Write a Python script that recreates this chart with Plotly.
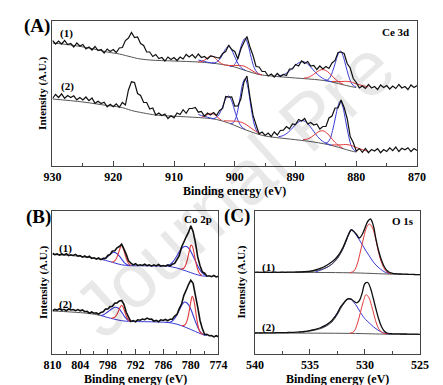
import numpy as np
import plotly.graph_objects as go

# ---------------- Panel A : Ce 3d ----------------
E_A = np.linspace(930, 870, 121)
ce_1 = [125.5, 122, 125, 122, 125.5, 121.5, 122.5, 119, 123, 120,
        121.5, 117, 119, 116, 119.5, 115.5, 116.5, 113, 117, 114.5,
        116.5, 113.5, 118, 118.5, 125.5, 128, 133.5, 128.5, 129, 122.5,
        120.5, 114, 114, 109.5, 111.5, 107.5, 108.5, 105, 109, 106.5,
        108.5, 105.5, 109, 107, 111.5, 109, 111.5, 108, 112, 108.5,
        109.5, 107, 110, 109.5, 108.5, 108, 112.5, 114.5, 121, 116.5,
        114.5, 107, 117, 123.5, 129.5, 119, 110.5, 99.5, 99, 94.5,
        94.5, 90, 92, 89, 92.5, 89.5, 91.5, 90.5, 97, 97,
        101.5, 100, 105, 102.5, 104.5, 100, 100.5, 96.5, 100, 97,
        99.5, 97.5, 103, 105.5, 113.5, 114, 112.5, 102.5, 98, 87.5,
        83.5, 78, 80, 77.5, 81.5, 78, 79.5, 76.5, 81, 78.5,
        80.5, 77, 80, 77.5, 81.5, 78, 79.5, 76.5, 81, 78.5,
        80.5]
ce_2 = [67.5, 71.5, 68.5, 72.2, 67.7, 70.5, 68.5, 70.2, 66.2, 68.5,
        66, 69, 65.3, 68, 62.7, 64.8, 62.5, 63.8, 59.2, 61.7,
        59.2, 62.2, 58.7, 63.5, 61, 76, 84.2, 83.5, 72.5, 70.5,
        63.5, 63.5, 57, 58, 51, 53, 50.5, 52, 47.5, 50.3,
        48.2, 53, 51.5, 56.3, 52.7, 57.5, 57.5, 58.5, 53.8, 54.5,
        49.8, 53, 51, 53.5, 50.5, 55.5, 57.5, 69.5, 68.8, 69.2,
        59.8, 60, 67, 83.8, 90, 69, 50.8, 41.2, 32.2, 34,
        30.5, 33, 29.5, 34, 31, 35.5, 35.8, 39.5, 37.2, 42,
        41.5, 46.5, 45, 47.5, 42, 43.5, 41, 42, 37, 39.5,
        39.5, 48, 50, 58, 58, 66, 58.5, 47.5, 29.5, 23.5,
        14.8, 17.5, 13.7, 17.5, 13.3, 16.5, 15, 17.3, 13.3, 16.5,
        14.5, 18.2, 15.3, 19, 14.5, 17.7, 16.2, 18.3, 14.5, 17.5,
        15.5]

ce_bg1_E = [930, 927, 924, 921, 919, 918, 917, 916, 914, 910, 906, 904, 902, 900, 898, 896, 894, 890, 886, 884, 882, 880.5, 880]
ce_bg1 = [123, 121, 118, 114, 112, 110.5, 109, 107.5, 106, 105, 104, 103, 101.5, 99, 95, 91.5, 90, 88, 86, 84, 81, 79, 78.5]
ce_bg2_E = [930, 925, 921, 919, 918, 917, 915, 913, 909, 905, 903, 901, 899, 897, 895, 891, 887, 884, 882, 880.5, 880]
ce_bg2 = [67, 64, 60.5, 59, 57.5, 55.5, 53, 51, 49.5, 48, 46.5, 43, 38, 33.5, 30, 27, 24, 20.5, 17, 14.5, 14]

# fitted components (1)
ceb1_a_E = [903.7, 903.25, 902.8, 902.35, 901.9, 901.45, 901.0, 900.55, 900.1, 899.65, 899.2, 898.75, 898.3]
ceb1_a = [103.1, 103.2, 104.7, 107.9, 112.6, 117.6, 119.3, 116.5, 110.6, 104.5, 100, 97.3, 95.8]
ceb1_b_E = [900.8, 900.3, 899.8, 899.3, 898.8, 898.3, 897.8, 897.3, 896.8, 896.3, 895.8]
ceb1_b = [99.6, 100.1, 103.6, 112, 122.7, 127.6, 120.9, 108.4, 98.3, 93.3, 91.4]
ceb1_c_E = [892.8, 892.0, 891.2, 890.4, 889.6, 888.8, 888.0, 887.2, 886.4, 885.6, 884.8, 884.0]
ceb1_c = [90.1, 91.3, 94.1, 98.5, 102.8, 104.4, 102, 96.9, 91.7, 87.9, 85.5, 84.2]
ceb1_d_E = [885.15, 884.7, 884.3, 883.9, 883.45, 883.0, 882.6, 882.2, 881.75, 881.3, 880.9, 880.5, 880.05]
ceb1_d = [85.6, 86.2, 88.8, 94.6, 103.2, 111.6, 114.9, 110.4, 100.7, 90.8, 84, 80.5, 79]
ceb1_e_E = [906, 905.5, 905, 904.5, 904, 903.5]
ceb1_e = [106, 105.3, 104.5, 103.8, 103.3, 102.9]
cer1_a_E = [906, 905.4, 905.0, 904.6, 904.2, 903.8, 903.4, 903.0, 902.6, 902.2, 901.6]
cer1_a = [104, 104.6, 105.8, 107.5, 109.3, 109.9, 108.8, 106.5, 104.2, 102.5, 100.8]
cer1_b_E = [901.5, 900.75, 900, 899.25, 898.5, 897.75, 897, 896.25, 895.5]
cer1_b = [101, 100.5, 100.6, 100.5, 100, 97.6, 94.8, 92.3, 91.2]
cer1_c_E = [888.65, 888.0, 887.35, 886.7, 886.05, 885.4, 884.75, 884.1, 883.45, 882.8, 882.15]
cer1_c = [87.8, 88.5, 90.3, 93.1, 95.7, 96.4, 94.5, 90.8, 86.8, 83.7, 81.7]
cer1_d_E = [884.0, 883.25, 882.5, 881.75, 881, 880.25, 879.5, 878.75, 878]
cer1_d = [84.6, 84.4, 84.5, 84.7, 84.2, 82.7, 81.2, 80, 79.1]

# fitted components (2)
ceb2_a_E = [903.7, 903.25, 902.8, 902.35, 901.9, 901.45, 901.0, 900.55, 900.1, 899.65, 899.2, 898.75, 898.3]
ceb2_a = [47.3, 47.9, 49.8, 54.2, 61, 67.6, 70, 65.7, 57.2, 48.4, 42.1, 38.6, 36.7]
ceb2_b_E = [900.7, 900.3, 899.9, 899.5, 899.1, 898.7, 898.3, 897.9, 897.5, 897.1, 896.7, 896.3, 895.9]
ceb2_b = [42.4, 43, 46.8, 55.7, 69.2, 82.3, 87.4, 80.5, 65.6, 50.3, 39.7, 34.3, 32]
ceb2_c_E = [892.8, 892.0, 891.2, 890.4, 889.6, 888.8, 888.0, 887.2, 886.4, 885.6, 884.8, 884.0]
ceb2_c = [29.3, 30.5, 33.7, 38.7, 43.6, 45.4, 42.4, 36.3, 29.6, 24.9, 22.3, 20.7]
ceb2_d_E = [885.15, 884.7, 884.3, 883.9, 883.45, 883.0, 882.6, 882.2, 881.75, 881.3, 880.9, 880.5, 880.05]
ceb2_d = [22.8, 23.8, 27.3, 35.6, 48, 60.25, 65, 58.9, 45.1, 31.1, 21.5, 16.6, 14.5]
ceb2_e_E = [906, 905.5, 905, 904.5, 904, 903.5]
ceb2_e = [51.5, 50.5, 49.6, 48.8, 48, 47.3]
cer2_a_E = [905.4, 905.0, 904.6, 904.2, 903.8, 903.4, 903.0, 902.6, 902.2]
cer2_a = [49, 49.8, 51, 52.3, 52.6, 51.7, 49.8, 47.6, 45.8]
cer2_b_E = [901.8, 901.05, 900.3, 899.55, 898.8, 898.05, 897.3, 896.55, 895.8]
cer2_b = [45.2, 45.1, 44.9, 44.7, 43.5, 41.1, 37.8, 34.7, 32.2]
cer2_c_E = [888.75, 888.1, 887.45, 886.8, 886.15, 885.5, 884.85, 884.2, 883.55, 882.9, 882.25]
cer2_c = [26.5, 26.8, 28.7, 31.7, 34.5, 35.25, 33, 28.6, 23.9, 20.4, 18]
cer2_d_E = [884.0, 883.25, 882.5, 881.75, 881, 880.25, 879.5, 878.75, 878]
cer2_d = [21.2, 21, 21.2, 21.5, 20.8, 19.1, 17.3, 15.8, 14.7]

# ---------------- Panel B : Co 2p ----------------
E_B = np.linspace(810, 774, 73)
co_1 = [100.8, 99.4, 100.1, 98.8, 100, 99.1, 100.3, 98.5, 99.2, 98.5,
        99.6, 97.9, 98.5, 96.9, 98, 96.6, 97.7, 95.6, 96.2, 95,
        96, 94.4, 95.6, 95.6, 98.5, 99.6, 103, 103.3, 106.2, 107.5,
        109.8, 104.9, 99.6, 93.1, 90.8, 89.1, 90.3, 88.6, 89.2, 88.5,
        89.8, 88.4, 89.1, 87.9, 89.2, 88.1, 89.5, 87.8, 88.5, 87.8,
        89.1, 87.9, 89.8, 90.6, 94.5, 98.6, 107, 112, 117.2, 121.5,
        128.3, 122.4, 111.3, 97.1, 88.2, 82.1, 80.8, 77.8, 78.2, 77.3,
        78.5, 77.1, 77.8]
co_2 = [43.3, 44.6, 43.9, 45.2, 43.8, 44.7, 43.3, 45, 44, 44.5,
        43.3, 44.4, 43.2, 44.1, 42.3, 42.7, 40.8, 42, 40.8, 41.2,
        39.8, 41.6, 42.2, 44.9, 45, 47.4, 47.7, 50.7, 51.1, 53,
        53.5, 49.6, 41.7, 36.9, 32.5, 33.4, 32.3, 34.2, 33.8, 35,
        34.3, 35.9, 34.7, 34.9, 32.8, 33.7, 32.3, 34.2, 33.5, 34.5,
        33.3, 34.8, 34.7, 37.9, 39.5, 45.4, 50, 58.7, 63.8, 69.5,
        73.8, 70.6, 58.7, 46.9, 33.5, 25.4, 19.5, 19.7, 18.3, 18.5,
        17.1, 18.3, 17.2]

co_bg1g_E = [810, 806, 802, 799.3]
co_bg1g = [99.5, 98.5, 96.5, 94.5]
co_bg1b_E = [799.3, 798, 797, 796, 795, 794, 793, 790, 787, 785, 784, 783, 782, 781, 780, 779, 778, 777, 776.5]
co_bg1b = [94.5, 93, 91.7, 90.3, 89.2, 88.6, 88.3, 88.2, 88, 87.8, 87, 86, 84.5, 83, 81.3, 79.8, 78.5, 77.8, 77.5]
co_bg2g_E = [810, 806, 802, 799.5]
co_bg2g = [43, 42, 40.5, 38.5]
co_bg2b_E = [799.5, 798, 797, 796, 795, 794, 793, 790, 787, 785, 784, 783, 782, 781, 780, 779, 778, 777, 776.5]
co_bg2b = [38.5, 36.5, 35.3, 34.2, 33.3, 32.8, 32.5, 32.3, 32, 31.5, 30.8, 29.8, 28.3, 26.5, 24.5, 22.5, 20.5, 19, 18.5]

cob1_a_E = [799.3, 798.5, 798, 797.5, 797, 796.7, 796.3, 795.8, 795.3, 794.8, 794.3, 793.8, 793.2]
cob1_a = [94.5, 95.8, 97.5, 99.6, 101.2, 101.7, 101.2, 99.5, 96.8, 93.6, 90.8, 89.3, 88.5]
cor1_a_E = [797.2, 796.7, 796.2, 795.8, 795.4, 795, 794.6, 794.2, 793.8, 793.4, 793]
cor1_a = [91.7, 92.5, 95, 99.5, 105, 108.5, 105, 98.5, 93, 90, 88.6]
cob1_b_E = [785.5, 784.5, 784, 783.5, 783, 782.5, 782, 781.5, 781.2, 780.8, 780.3, 779.8, 779.3, 778.8, 778.3, 777.8, 777.3, 776.8]
cob1_b = [88.2, 89.5, 91.5, 94.5, 98.3, 102.3, 105.5, 107.3, 107.7, 107.2, 104.8, 100.8, 96, 91, 86.2, 82.5, 80.2, 78.7]
cor1_b_E = [782.2, 781.6, 781.2, 780.8, 780.4, 780.1, 779.9, 779.6, 779.3, 778.9, 778.5, 778.1, 777.6]
cor1_b = [84.8, 85.5, 88, 93.5, 101.5, 107.5, 109.3, 107, 101, 91.5, 84.5, 80.5, 78.5]

cob2_a_E = [799.6, 798.8, 798.2, 797.6, 797, 796.3, 795.7, 795.2, 794.7, 794.2, 793.7, 793.1]
cob2_a = [38.3, 39.5, 41.5, 43.6, 45.6, 46.7, 45.8, 43.2, 39.8, 36.3, 34, 32.8]
cor2_a_E = [797.2, 796.6, 796.1, 795.7, 795.3, 795, 794.7, 794.3, 793.9, 793.5, 793]
cor2_a = [35.8, 36.5, 39, 42.8, 47, 48.7, 47, 42, 36.8, 33.8, 32.6]
cob2_b_E = [785.5, 784.5, 784, 783.5, 783, 782.5, 782, 781.6, 781.3, 780.9, 780.4, 779.9, 779.4, 778.9, 778.4, 777.9, 777.4, 776.9]
cob2_b = [31.6, 31.8, 33, 35.5, 39.5, 44, 48.5, 51.2, 52, 51.3, 48.5, 43.7, 37.5, 31.2, 25.7, 22, 19.8, 18.8]
cor2_b_E = [782, 781.4, 781, 780.6, 780.2, 779.9, 779.7, 779.4, 779.1, 778.7, 778.3, 777.9, 777.4]
cor2_b = [28.3, 28.8, 31, 37, 47, 54.5, 57.7, 55, 47.5, 35, 25.5, 21.3, 19.5]

# ---------------- Panel C : O 1s ----------------
E_C = np.linspace(540, 525, 61)
o_1 = [81.7, 81.8, 81.6, 81.7,
       81.8, 81.7, 81.6, 81.8,
       81.7, 81.7, 81.8, 81.7,
       81.8, 81.8, 81.9, 82,
       82, 82.1, 82.3, 82.5,
       82.8, 83.3, 84, 84.8,
       85.8, 87, 88.5, 90.2,
       92.2, 94.5, 97.5, 101.5,
       106.5, 113, 119.5, 124.3,
       122.5, 119.3, 116, 119.5,
       126, 132.5, 135, 129,
       115, 103, 94, 87.5,
       83.5, 81.5, 80.7, 80.3,
       80.1, 80, 79.9, 79.8,
       79.7, 79.6, 79.5, 79.4,
       79.3]
o_2 = [21, 21.1, 21, 21.1,
       21.2, 21.1, 21.2, 21.2,
       21.3, 21.3, 21.4, 21.4,
       21.5, 21.6, 21.7, 21.8,
       22, 22.2, 22.5, 22.9,
       23.4, 24, 24.7, 25.5,
       26.5, 27.8, 29.3, 31.2,
       33.5, 36.8, 41, 46.5,
       50, 53.5, 55.3, 54.8,
       52.7, 51.2, 53.5, 61,
       70.5, 71.5, 66, 56,
       45, 35, 27.5, 23,
       21, 20.4, 20.2, 20.1,
       20.1, 20, 20, 20,
       19.9, 19.9, 19.8, 19.8,
       19.7]
o_fit_E = [536, 535.5, 535, 534.5, 534, 533.5, 533, 532.5, 532, 531.5, 531.25]
o_fit1 = [81.9, 82.1, 82.4, 83.2, 84.5, 86.5, 89.8, 95.5, 105, 118.8, 123.8]
o_fit2 = [21.9, 22.3, 23, 24, 25.5, 28, 32, 39.5, 49.2, 55, 54.5]
o_bg1_E = [540, 531.3, 528, 525]
o_bg1 = [81.7, 81.2, 80.0, 79.3]
o_bg2_E = [540, 531.3, 528.3, 525]
o_bg2 = [21, 20.6, 19.9, 19.5]
ob1_E = [534.5, 534, 533.5, 533, 532.5, 532, 531.7, 531.5, 531.3, 531.1, 530.8, 530.5, 530.2, 529.9, 529.6, 529.3, 529, 528.6, 528.2, 527.8]
ob1 = [82, 84, 86.3, 90, 96, 105.5, 113, 119, 123.5, 123, 119, 114, 108.5, 103, 98, 93, 89, 85, 82, 80.5]
or1_E = [531.4, 531, 530.7, 530.4, 530.1, 529.85, 529.6, 529.35, 529.1, 528.85, 528.6, 528.3, 528, 527.6]
or1 = [81.2, 83, 90, 103, 117, 126.5, 130, 127, 118.5, 106, 95, 86.5, 81.8, 80.3]
ob2_E = [534, 533.5, 533, 532.5, 532, 531.75, 531.5, 531.25, 531, 530.7, 530.4, 530.1, 529.8, 529.5, 529.2, 528.9, 528.5, 528.1, 527.7]
ob2 = [26, 29, 33.5, 41.5, 50, 53.5, 55.3, 54.5, 51.5, 47, 41.5, 36.5, 33, 30, 27, 24.5, 22, 20.5, 20]
or2_E = [531.4, 531, 530.7, 530.4, 530.15, 529.9, 529.65, 529.4, 529.15, 528.9, 528.6, 528.3, 527.9]
or2 = [20.6, 22.5, 30, 42, 52.5, 59.3, 56.5, 48.5, 38, 29, 23, 20.8, 20.2]

assert len(ce_1) == len(E_A) and len(ce_2) == len(E_A), (len(ce_1), len(ce_2))
assert len(co_1) == len(E_B) and len(co_2) == len(E_B), (len(co_1), len(co_2))
assert len(o_1) == len(E_C) and len(o_2) == len(E_C), (len(o_1), len(o_2))

# ---------------- figure ----------------
W, H = 443, 385
BLACK = "#111111"
GRAY = "#555555"
BLUE = "#3a3ad6"
RED = "#e0393b"
FONT = "Liberation Serif"

fig = go.Figure()


def line(x, y, color, width=1.0, ax="", spline=False):
    fig.add_trace(go.Scatter(
        x=[float(v) for v in x], y=[float(v) for v in y], mode="lines",
        line=dict(color=color, width=width, shape="spline" if spline else "linear",
                  simplify=False),
        xaxis="x" + ax, yaxis="y" + ax, showlegend=False, hoverinfo="skip"))


# Panel A
line(ce_bg1_E, ce_bg1, GRAY, 1, "", True)
line(ce_bg2_E, ce_bg2, GRAY, 1, "", True)
for (xe, ye) in [(ceb1_a_E, ceb1_a), (ceb1_b_E, ceb1_b), (ceb1_c_E, ceb1_c), (ceb1_d_E, ceb1_d), (ceb1_e_E, ceb1_e),
                 (ceb2_a_E, ceb2_a), (ceb2_b_E, ceb2_b), (ceb2_c_E, ceb2_c), (ceb2_d_E, ceb2_d), (ceb2_e_E, ceb2_e)]:
    line(xe, ye, BLUE, 1, "", True)
for (xe, ye) in [(cer1_a_E, cer1_a), (cer1_b_E, cer1_b), (cer1_c_E, cer1_c), (cer1_d_E, cer1_d),
                 (cer2_a_E, cer2_a), (cer2_b_E, cer2_b), (cer2_c_E, cer2_c), (cer2_d_E, cer2_d)]:
    line(xe, ye, RED, 1, "", True)
line(E_A, ce_1, BLACK, 1.2)
line(E_A, ce_2, BLACK, 1.2)

# Panel B
line(co_bg1g_E, co_bg1g, GRAY, 1, "2", True)
line(co_bg2g_E, co_bg2g, GRAY, 1, "2", True)
line(co_bg1b_E, co_bg1b, BLUE, 1, "2", True)
line(co_bg2b_E, co_bg2b, BLUE, 1, "2", True)
for (xe, ye) in [(cob1_a_E, cob1_a), (cob1_b_E, cob1_b), (cob2_a_E, cob2_a), (cob2_b_E, cob2_b)]:
    line(xe, ye, BLUE, 1.1, "2", True)
for (xe, ye) in [(cor1_a_E, cor1_a), (cor1_b_E, cor1_b), (cor2_a_E, cor2_a), (cor2_b_E, cor2_b)]:
    line(xe, ye, RED, 1.1, "2", True)
line(E_B, co_1, BLACK, 1.6, "2")
line(E_B, co_2, BLACK, 1.6, "2")

# Panel C
line(o_bg1_E, o_bg1, GRAY, 1, "3", True)
line(o_bg2_E, o_bg2, GRAY, 1, "3", True)
line(ob1_E, ob1, BLUE, 1, "3", True)
line(ob2_E, ob2, BLUE, 1, "3", True)
line(or1_E, or1, RED, 1, "3", True)
line(or2_E, or2, RED, 1, "3", True)
line(o_fit_E, o_fit1, "#444444", 1, "3", True)
line(o_fit_E, o_fit2, "#444444", 1, "3", True)
line(E_C, o_1, BLACK, 1.3, "3", True)
line(E_C, o_2, BLACK, 1.3, "3", True)


def px(x):
    return x / W


def py(y):
    return 1 - y / H


axis_common = dict(showline=True, linecolor="#444", linewidth=1, mirror=True,
                   showgrid=False, zeroline=False)
xcommon = dict(axis_common, ticks="inside", ticklen=5, tickwidth=1, tickcolor="#444",
               tickfont=dict(family=FONT, size=12, color="black", weight="bold"))
ycommon = dict(axis_common, ticks="", showticklabels=False)

fig.update_layout(
    width=W, height=H, margin=dict(l=0, r=0, t=0, b=0),
    plot_bgcolor="white", paper_bgcolor="white",
    xaxis=dict(xcommon, domain=[px(37), px(417)], range=[930, 870], dtick=10, tick0=870,
               minor=dict(ticks="inside", ticklen=3, dtick=5, tickcolor="#444"), anchor="y"),
    yaxis=dict(ycommon, domain=[py(158), py(13)], range=[0, 145], anchor="x"),
    xaxis2=dict(xcommon, domain=[px(37), px(210)], range=[810, 774], dtick=6, tick0=774,
                minor=dict(ticks="inside", ticklen=3, dtick=3, tickcolor="#444"), anchor="y2"),
    yaxis2=dict(ycommon, domain=[py(346), py(203)], range=[0, 143], anchor="x2"),
    xaxis3=dict(xcommon, domain=[px(248), px(420)], range=[540, 525], dtick=5, tick0=525,
                minor=dict(ticks="inside", ticklen=3, dtick=2.5, tickcolor="#444"), anchor="y3"),
    yaxis3=dict(ycommon, domain=[py(346), py(203)], range=[0, 143], anchor="x3"),
)


def text(t, x, y, size, angle=0, xanchor="center", color="black", family=FONT):
    fig.add_annotation(text=t, x=px(x), y=py(y), xref="paper", yref="paper",
                       showarrow=False, textangle=angle, xanchor=xanchor, yanchor="middle",
                       font=dict(family=family, size=size, color=color))


# watermark (faint, diagonal)
text("Journal Pre", 226, 180, 78, angle=-42, color="rgba(0,0,0,0.09)", family="Liberation Sans")

text("<b>(A)</b>", 21, 18, 19)
text("<b>(B)</b>", 22, 209, 19)
text("<b>(C)</b>", 229, 208, 19)
text("<b>Ce 3d</b>", 411, 24, 11, xanchor="right")
text("<b>Co 2p</b>", 205, 211, 11, xanchor="right")
text("<b>O 1s</b>", 416, 213, 11, xanchor="right")
text("<b>(1)</b>", 52, 25, 11)
text("<b>(2)</b>", 53, 79, 11)
text("<b>(1)</b>", 51, 240, 11)
text("<b>(2)</b>", 51, 296, 11)
text("<b>(1)</b>", 262, 259, 11)
text("<b>(2)</b>", 262, 319, 11)
text("<b>Intensity (A.U.)</b>", 27, 85, 11, angle=-90)
text("<b>Intensity (A.U.)</b>", 27, 274, 11, angle=-90)
text("<b>Intensity (A.U.)</b>", 233, 274, 11, angle=-90)
text("<b>Binding energy (eV)</b>", 227, 183, 12)
text("<b>Binding energy (eV)</b>", 123, 371, 12)
text("<b>Binding energy (eV)</b>", 334, 371, 12)

fig.write_html("out.html")
